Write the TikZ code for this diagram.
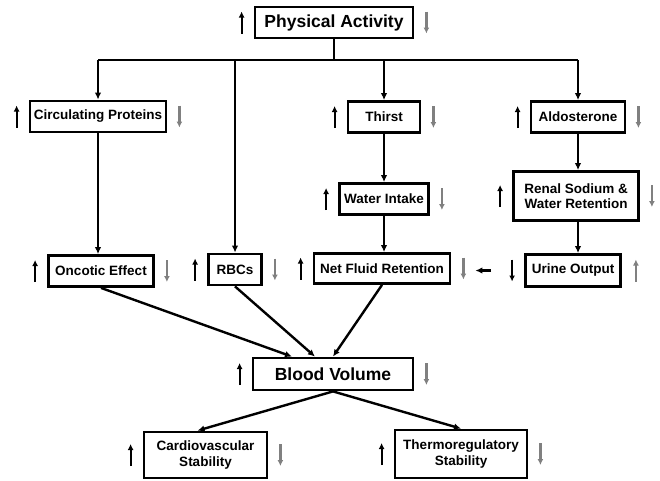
\documentclass[tikz,border=0pt]{standalone}
\usepackage{fontspec}
\setmainfont{Liberation Sans}
\usetikzlibrary{arrows.meta}
\newcommand\boxbig{\fontsize{17.5}{20}\selectfont\bfseries}
\newcommand\boxsmall{\fontsize{13.5}{15.5}\selectfont\bfseries}
\definecolor{markgrey}{gray}{0.5}
\begin{document}
\begin{tikzpicture}[x=1pt, y=-1pt,
        box/.style={draw, line width=2.8pt, inner sep=0pt, minimum height=31pt, align=center, font=\boxsmall},
        bigbox/.style={box, font=\boxbig},
        link/.style={line width=2.4pt},
        arr/.style={link, -{Latex[length=7pt,width=6.5pt]}},
        markblack/.style={line width=2.2pt, -{Latex[length=6pt,width=6pt]}},
        markgray/.style={markblack, markgrey}]
        \useasboundingbox (0,0) rectangle (660,480);
        % boxes
        \node[bigbox, minimum width=158] (act) at (334,22.5) {Physical Activity};
        \node[box, minimum width=136] (prot) at (98,116.5) {Circulating Proteins};
        \node[box, minimum width=72] (thirst) at (384,117) {Thirst};
        \node[box, minimum width=94] (aldo) at (578,117) {Aldosterone};
        \node[box, minimum width=89] (water) at (384,199) {Water Intake};
        \node[box, minimum width=125, minimum height=49] (renal) at (576,196) {Renal Sodium \&\\Water Retention};
        \node[box, minimum width=105] (onc) at (101,271) {Oncotic Effect};
        \node[box, minimum width=53] (rbc) at (235,269.5) {RBCs};
        \node[box, minimum width=136, minimum height=30] (net) at (382,268.5) {Net Fluid Retention};
        \node[box, minimum width=95, minimum height=32] (urine) at (573,270.5) {Urine Output};
        \node[bigbox, minimum width=160, minimum height=32] (vol) at (333,374) {Blood Volume};
        \node[box, minimum width=123, minimum height=46] (cardio) at (205.5,455) {Cardiovascular\\Stability};
        \node[box, minimum width=132, minimum height=48] (thermo) at (461,454) {Thermoregulatory\\Stability};
        % connectors
        \coordinate (bus) at (334,60);
        \draw[link] (act) -- (bus);
        \draw[link] (prot |- bus) -- (aldo |- bus);
        \foreach \n in {prot,rbc,thirst,aldo}
            \draw[arr] (\n |- bus) -- (\n);
        \draw[arr] (prot) -- (prot |- onc.north);
        \draw[arr] (thirst) -- (water);
        \draw[arr] (water) -- (water |- net.north);
        \draw[arr] (aldo) -- (aldo |- renal.north);
        \draw[arr] (aldo |- renal.south) -- (aldo |- urine.north);
        \coordinate (tip) at ([xshift=24pt]net.east);
        \draw[arr] ([xshift=-33pt]urine.west) -- (tip |- urine.west);
        \draw[arr] (onc.south) -- ([xshift=-41pt]vol.north);
        \draw[arr] (rbc.south) -- ([xshift=-18pt]vol.north);
        \draw[arr] (net.south) -- (vol.north);
        \draw[arr] (vol.south) -- ([xshift=-8pt]cardio.north);
        \draw[arr] (vol.south) -- (thermo.north);
        % up and down marks
        \foreach \n in {act,prot,thirst,aldo,water,renal,onc,rbc,net,vol,cardio,thermo} {
            \draw[markblack] ([shift={(-12,11)}]\n.west) -- ++(0,-22);
            \draw[markgray] ([shift={(12,-11)}]\n.east) -- ++(0,22);
        }
        \draw[markblack] ([shift={(-12,-11)}]urine.west) -- ++(0,22);
        \draw[markgray] ([shift={(14,11)}]urine.east) -- ++(0,-22);
    \end{tikzpicture}
\end{document}
